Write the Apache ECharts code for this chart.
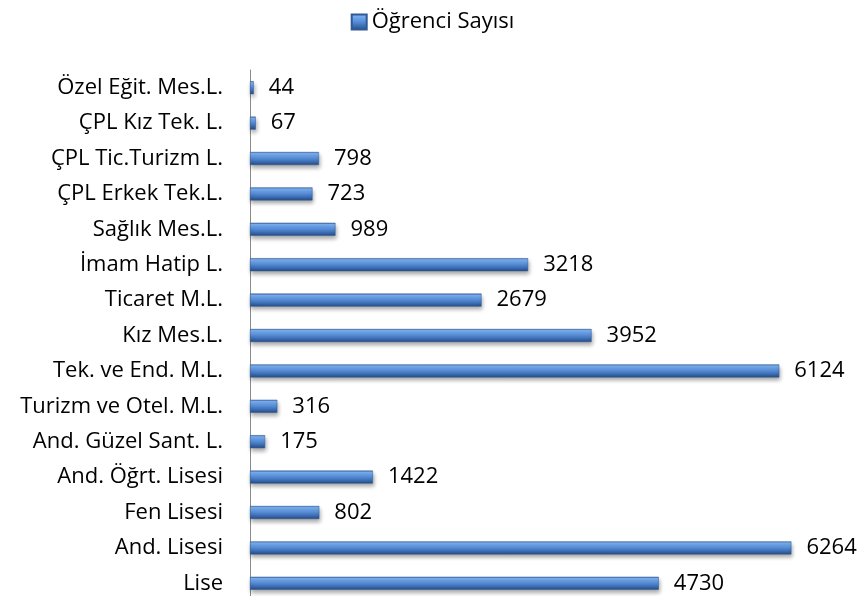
<!DOCTYPE html>
<html>
<head>
<meta charset="utf-8">
<script src="https://cdn.jsdelivr.net/npm/echarts@6/dist/echarts.min.js"></script>
<style>
html, body { margin: 0; padding: 0; background: #fff; }
#main { width: 865px; height: 596px; }
</style>
</head>
<body>
<div id="main"></div>
<script>
(function(){
var myChart = echarts.init(document.getElementById('main'));

// okul türleri (alttan üste)
var okullar = ['Lise', 'And. Lisesi', 'Fen Lisesi', 'And. Öğrt. Lisesi', 'And. Güzel Sant. L.',
    'Turizm ve Otel. M.L.', 'Tek. ve End. M.L.', 'Kız Mes.L.', 'Ticaret M.L.', 'İmam Hatip L.',
    'Sağlık Mes.L.', 'ÇPL Erkek Tek.L.', 'ÇPL Tic.Turizm L.', 'ÇPL Kız Tek. L.', 'Özel Eğit. Mes.L.'];
var ogrenciSayisi = [4730, 6264, 802, 1422, 175, 316, 6124, 3952, 2679, 3218, 989, 723, 798, 67, 44];

// silindir görünümü için dikey renk geçişi
var barGradient = new echarts.graphic.LinearGradient(0, 0, 0, 1, [
    { offset: 0, color: '#3d6aa8' },
    { offset: 0.12, color: '#7bb0f0' },
    { offset: 0.45, color: '#5a91dc' },
    { offset: 0.75, color: '#3b6cb2' },
    { offset: 1, color: '#264a80' }
]);

var option = {
    animation: false,
    legend: {
        top: 6,
        left: 'center',
        itemWidth: 15,
        itemHeight: 15,
        itemGap: 4,
        textStyle: { fontFamily: 'Open Sans', fontSize: 22, color: '#000' },
        data: [{ name: 'Öğrenci Sayısı', icon: 'rect' }]
    },
    grid: {
        left: 250,
        top: 70,
        width: 605,
        height: 531,
        containLabel: false,
        outerBoundsMode: 'none'
    },
    xAxis: {
        type: 'value',
        min: 0,
        max: 7000,
        show: false,
        splitLine: { show: false }
    },
    yAxis: {
        type: 'category',
        data: okullar,
        axisLine: { show: true, lineStyle: { color: '#8a8a8a', width: 1 } },
        axisTick: { show: false },
        axisLabel: {
            margin: 27,
            fontFamily: 'Open Sans',
            fontSize: 22,
            color: '#000'
        }
    },
    series: [{
        name: 'Öğrenci Sayısı',
        type: 'bar',
        data: ogrenciSayisi,
        barWidth: 13,
        itemStyle: {
            color: barGradient,
            borderColor: '#2f5a94',
            borderWidth: 0.5,
            shadowColor: 'rgba(0,0,0,0.35)',
            shadowBlur: 4,
            shadowOffsetY: 3,
            shadowOffsetX: 1
        },
        label: {
            show: true,
            position: 'right',
            distance: 15,
            fontFamily: 'Open Sans',
            fontSize: 22,
            color: '#000'
        }
    }]
};
myChart.setOption(option);
})();
</script>
</body>
</html>
